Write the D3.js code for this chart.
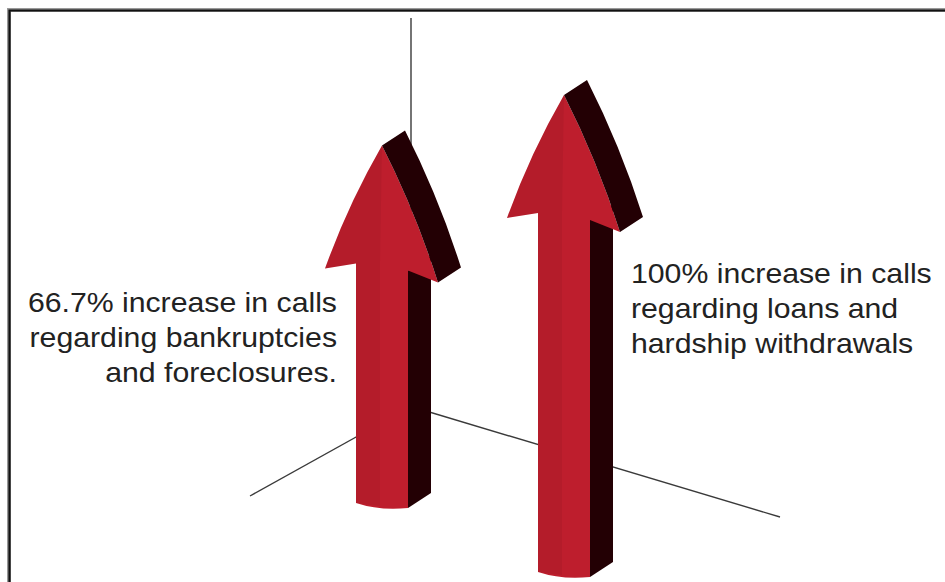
<!DOCTYPE html>
<html>
<head>
<meta charset="utf-8">
<script src="https://cdn.jsdelivr.net/npm/d3@7"></script>
<style>
    html, body { margin: 0; padding: 0; background: #fff; }
    svg { display: block; }
    .label { font-family: "Liberation Sans", Arial, Helvetica, sans-serif; fill: #222; }
</style>
</head>
<body>
<svg id="chart"></svg>
<script>
// Data
const categories = ["bankruptcies", "loans"];
const increases = [66.7, 100];
const labelLines = [
    ["66.7% increase in calls", "regarding bankruptcies", "and foreclosures."],
    ["100% increase in calls", "regarding loans and", "hardship withdrawals"]
];

const width = 945;
const height = 582;

const svg = d3.select("#chart")
    .attr("width", width)
    .attr("height", height)
    .attr("viewBox", [0, 0, width, height]);

// Scales: arrows stand on a perspective floor, shaft length follows the value
const xScale = d3.scalePoint().domain(categories).range([356, 538]);
const floorScale = d3.scalePoint().domain(categories).range([503, 572]);
const shaftScale = d3.scaleLinear().domain([0, 100]).range([0, 359]);

const red = "#be1e2d";
const dark = "#230004";
const depth = [23, -15];

// Frame (only top and left edges show)
svg.append("path")
    .attr("d", "M9,582V10H945")
    .attr("fill", "none")
    .attr("stroke", "#999")
    .attr("stroke-width", 4);
svg.append("path")
    .attr("d", "M9.5,582V10.5H945")
    .attr("fill", "none")
    .attr("stroke", "#111")
    .attr("stroke-width", 2.2);

// 3D axes
const origin = [411, 406.5];
const axes = [
    [[411, 18], origin],
    [[250, 496], origin],
    [origin, [780, 517]]
];
svg.selectAll(".axis")
    .data(axes)
    .enter()
    .append("line")
    .attr("class", "axis")
    .attr("x1", d => d[0][0])
    .attr("y1", d => d[0][1])
    .attr("x2", d => d[1][0])
    .attr("y2", d => d[1][1])
    .attr("stroke", "#3a3a3a")
    .attr("stroke-width", 1.4);

function frontPath(S) {
    const p = d3.path();
    p.moveTo(0, 0);
    p.lineTo(0, -S);
    p.lineTo(-31, -S + 5);
    p.quadraticCurveTo(-8, -S - 59, 26, -S - 118);
    p.quadraticCurveTo(59.5, -S - 52, 82, -S + 19);
    p.lineTo(52, -S + 7);
    p.lineTo(52, 5);
    p.quadraticCurveTo(24, 8, 0, 0);
    p.closePath();
    return p.toString();
}

function headSidePath(S) {
    const [dx, dy] = depth;
    const p = d3.path();
    p.moveTo(26, -S - 118);
    p.lineTo(26 + dx, -S - 118 + dy);
    p.quadraticCurveTo(59.5 + dx, -S - 52 + dy, 82 + dx, -S + 19 + dy);
    p.lineTo(82, -S + 19);
    p.quadraticCurveTo(59.5, -S - 52, 26, -S - 118);
    p.closePath();
    return p.toString();
}

function shaftSidePath(S) {
    const [dx, dy] = depth;
    const p = d3.path();
    p.moveTo(52, -S + 7);
    p.lineTo(52 + dx, -S + 7 + dy);
    p.lineTo(52 + dx, 5 + dy);
    p.lineTo(52, 5);
    p.closePath();
    return p.toString();
}

function shadePath(S) {
    const p = d3.path();
    p.moveTo(0, 0);
    p.lineTo(0, -S);
    p.lineTo(-31, -S + 5);
    p.quadraticCurveTo(-8, -S - 59, 26, -S - 118);
    p.lineTo(24, -S + 2);
    p.lineTo(24, 3);
    p.quadraticCurveTo(12, 2, 0, 0);
    p.closePath();
    return p.toString();
}

const arrows = categories.map((c, i) => ({ cat: c, value: increases[i] }));

const arrow = svg.selectAll(".arrow")
    .data(arrows)
    .enter()
    .append("g")
    .attr("class", "arrow")
    .attr("transform", d => `translate(${xScale(d.cat)},${floorScale(d.cat)})`);

arrow.append("path")
    .attr("d", d => shaftSidePath(shaftScale(d.value)))
    .attr("fill", dark);

arrow.append("path")
    .attr("d", d => frontPath(shaftScale(d.value)))
    .attr("fill", red);

arrow.append("path")
    .attr("d", d => shadePath(shaftScale(d.value)))
    .attr("fill", "#000")
    .attr("fill-opacity", 0.05);

arrow.append("path")
    .attr("d", d => headSidePath(shaftScale(d.value)))
    .attr("fill", dark);

// Labels
const labelPos = [
    { x: 337, y: 312, anchor: "end" },
    { x: 631, y: 283, anchor: "start" }
];

labelLines.forEach((lines, i) => {
    const pos = labelPos[i];
    const g = svg.append("g")
        .attr("transform", `translate(${pos.x},${pos.y}) scale(1.08,1)`);
    g.selectAll("text")
        .data(lines)
        .enter()
        .append("text")
        .attr("class", "label")
        .attr("x", 0)
        .attr("y", (d, j) => j * 35)
        .attr("text-anchor", pos.anchor)
        .attr("font-size", "28px")
        .text(d => d);
});
</script>
</body>
</html>
